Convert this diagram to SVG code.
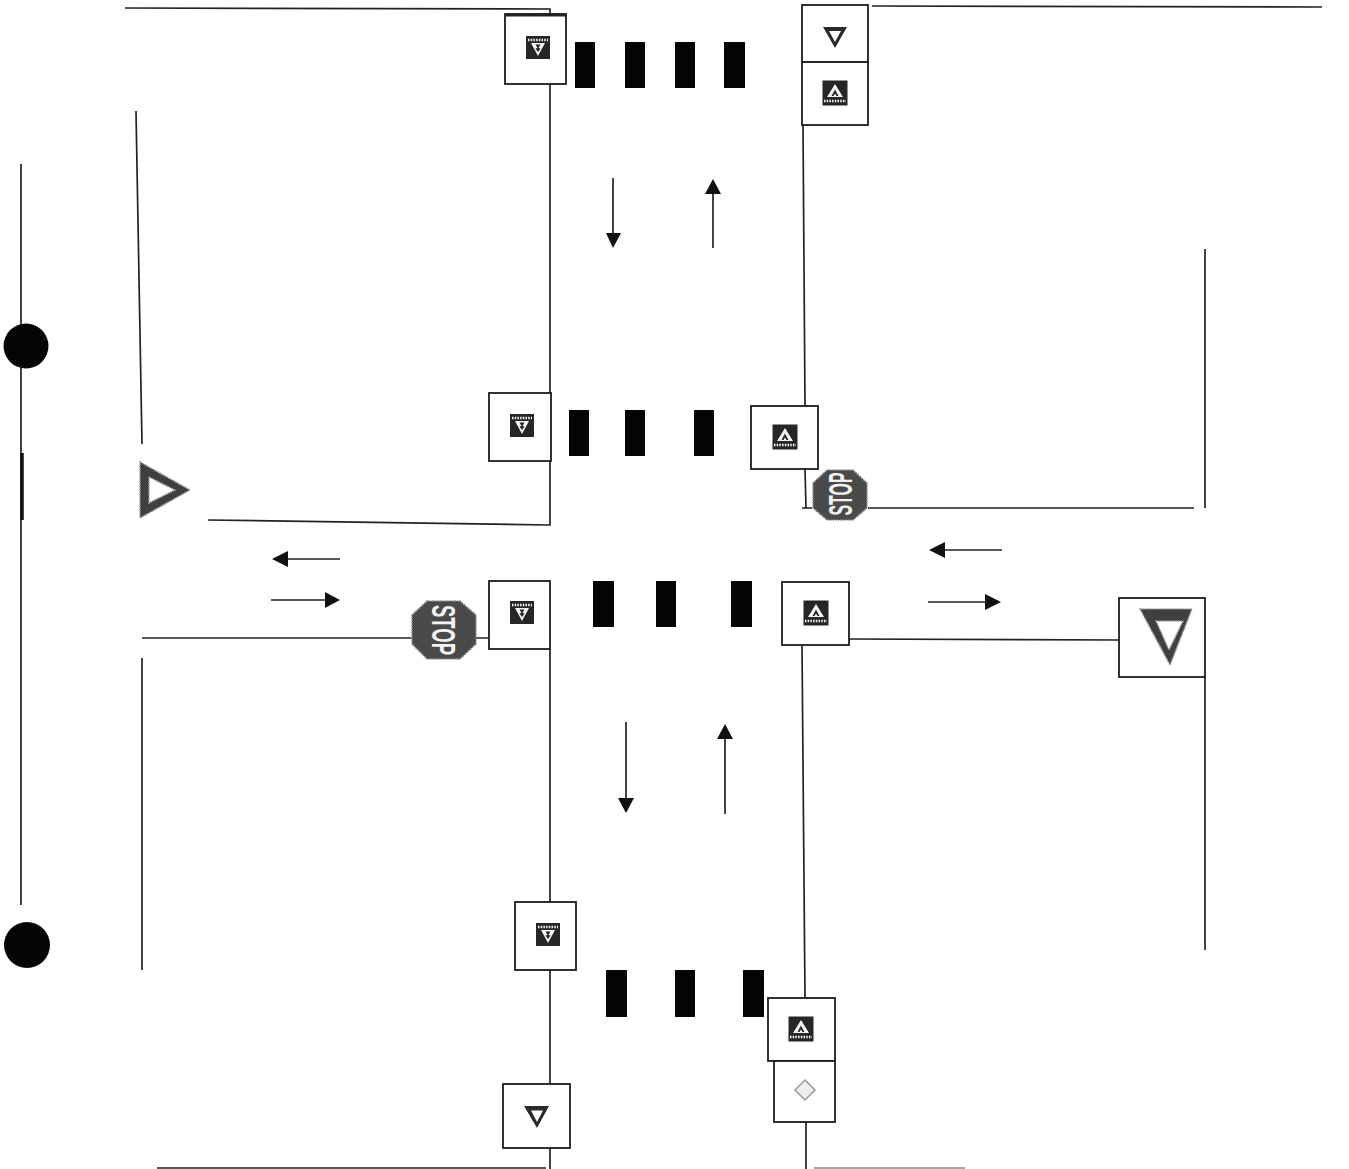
<svg xmlns="http://www.w3.org/2000/svg" width="1349" height="1169" viewBox="0 0 1349 1169">
<style>
.l{stroke:#222;stroke-width:1.7;fill:none}
.b{fill:#fff;stroke:#1c1c1c;stroke-width:1.800}
.bar{fill:#050505}
.a{stroke:#222;stroke-width:1.7;fill:none}
.ah{fill:#111}
.ic{fill:#262626}
.w{fill:#f4f4f4}
.y{fill:#3f3f3f;stroke:#9a9a9a;stroke-width:1.6;stroke-dasharray:1.5 1}
.st{fill:#4a4a4a;stroke:#8a8a8a;stroke-width:1.6;stroke-dasharray:1.5 1}
.tx{font-family:"Liberation Sans",Arial,sans-serif;font-weight:700;fill:#f2f2f2;text-anchor:middle}
.hatch{stroke:#f4f4f4;stroke-width:2.500;stroke-dasharray:1.500 1.200;fill:none}
</style>
<defs>
<g id="ped"><rect x="-12.500" y="-12.500" width="25" height="25" class="ic"/><path d="M0-9 8 4H-8Z" class="w"/><path d="M0-3.500 3.500 3 1.500 3 0 0.500-1.500 3-3.500 3Z" class="ic"/><path d="M-11 8H11" class="hatch"/></g>
<g id="pedd"><rect x="-12" y="-12" width="24" height="23" class="ic"/><path d="M-10-8H10" class="hatch"/><path d="M-7-5H7L0 8Z" class="w"/><path d="M-2.500-3.500H2.500L0.500 0 2.500 0.500 0 4-2.500 0.500-0.500 0Z" class="ic"/></g>
</defs>
<g id="connectors">
<path class="l" d="M125 8 550 9V14M550 84V393M550 461V525L208 520M803 125 805 406M805 469 806 508M802 508H812M868 508H1194M872 6 1322 7"/>
<path class="l" d="M136 111 142 444M21 164V905M1205 249V508"/>
<path class="l" d="M142 638H412M476 638H489M849 639 1119 640M550 649V902M802 645 805 998M142 658V970M1205 677V950M550 970V1084M550 1148V1169M806 1122V1169M157 1168H546"/>
<path d="M814 1168H965" stroke="#888" stroke-width="1.500" fill="none"/>
<path d="M22 453V520" stroke="#111" stroke-width="3.500"/>
<path class="a" d="M613 178V236M713 248V190M340 559H285M271 600H327M1002 550H942M928 602H987M626 722V803M725 814V735"/>
<path class="ah" d="M606 233H621L613 248ZM705 194H721L713 179ZM288 551V567L272 559ZM325 592V608L340 600ZM945 542V558L929 550ZM985 594V610L1001 602ZM618 798H634L626 813ZM717 739H733L725 724Z"/>
</g>
<g id="crossings">
<g class="bar">
<rect x="575" y="42" width="20" height="46"/><rect x="625" y="42" width="20" height="46"/><rect x="675" y="42" width="20" height="46"/><rect x="724" y="42" width="21" height="46"/>
<rect x="569" y="410" width="20" height="46"/><rect x="625" y="410" width="20" height="46"/><rect x="694" y="410" width="20" height="46"/>
<rect x="593" y="581" width="21" height="46"/><rect x="656" y="581" width="20" height="46"/><rect x="731" y="581" width="21" height="46"/>
<rect x="606" y="970" width="21" height="47"/><rect x="675" y="970" width="20" height="47"/><rect x="743" y="970" width="21" height="47"/>
</g>
</g>
<g id="dot-top"><circle cx="26" cy="346" r="22.500" fill="#050505"/></g>
<g id="dot-bottom"><circle cx="27" cy="945" r="23" fill="#050505"/></g>
<g id="sign-top-left"><rect class="b" x="505" y="14" width="61" height="70"/><path d="M505 15H566" stroke="#222" stroke-width="3"/><use href="#pedd" x="538" y="48"/></g>
<g id="sign-top-right-yield"><rect class="b" x="802" y="5" width="66" height="57"/><path d="M823 27H847L835 48ZM829 31 835 42 841 31Z" fill="#2a2a2a" fill-rule="evenodd"/></g>
<g id="sign-top-right-ped"><rect class="b" x="802" y="62" width="66" height="63"/><use href="#ped" x="835" y="93"/></g>
<g id="sign-mid-left"><rect class="b" x="489" y="393" width="62" height="68"/><use href="#pedd" x="522" y="426"/></g>
<g id="sign-mid-right"><rect class="b" x="751" y="406" width="67" height="63"/><use href="#ped" x="785" y="437"/></g>
<g id="stop-right"><path class="st" d="M827 470H853L867 483V508L853 520H827L813 508V483Z"/><text class="tx" font-size="34" textLength="43" lengthAdjust="spacingAndGlyphs" transform="translate(852 494) rotate(-90)">STOP</text></g>
<g id="yield-left"><path class="y" fill-rule="evenodd" d="M140 462 190 490 140 518ZM149 477V503L175 490Z"/></g>
<g id="sign-low-left"><rect class="b" x="489" y="581" width="61" height="68"/><use href="#pedd" x="522" y="613"/></g>
<g id="stop-left"><path class="st" d="M427 601H460L476 615V644L460 659H427L412 644V615Z"/><text class="tx" font-size="34" textLength="50" lengthAdjust="spacingAndGlyphs" transform="translate(432 630) rotate(90)">STOP</text></g>
<g id="sign-low-right"><rect class="b" x="782" y="582" width="67" height="63"/><use href="#ped" x="816" y="613"/></g>
<g id="yield-right"><rect class="b" x="1119" y="598" width="86" height="79"/><path class="y" fill-rule="evenodd" d="M1140 609H1192L1170 665ZM1156 621 1169 650 1183 621Z"/></g>
<g id="sign-bottom-left"><rect class="b" x="515" y="902" width="61" height="68"/><use href="#pedd" x="548" y="935"/></g>
<g id="sign-bottom-right-ped"><rect class="b" x="768" y="998" width="67" height="63"/><use href="#ped" x="801" y="1029"/></g>
<g id="sign-bottom-yield"><rect class="b" x="503" y="1084" width="67" height="64"/><path d="M524 1106H549L537 1128ZM531 1110.500 537 1122 543 1110.500Z" fill="#2a2a2a" fill-rule="evenodd"/></g>
<g id="sign-bottom-diamond"><rect class="b" x="774" y="1061" width="61" height="61"/><path d="M805 1080 815 1090 805 1100 795 1090Z" fill="#eee" stroke="#999" stroke-width="1.500"/></g>
</svg>
